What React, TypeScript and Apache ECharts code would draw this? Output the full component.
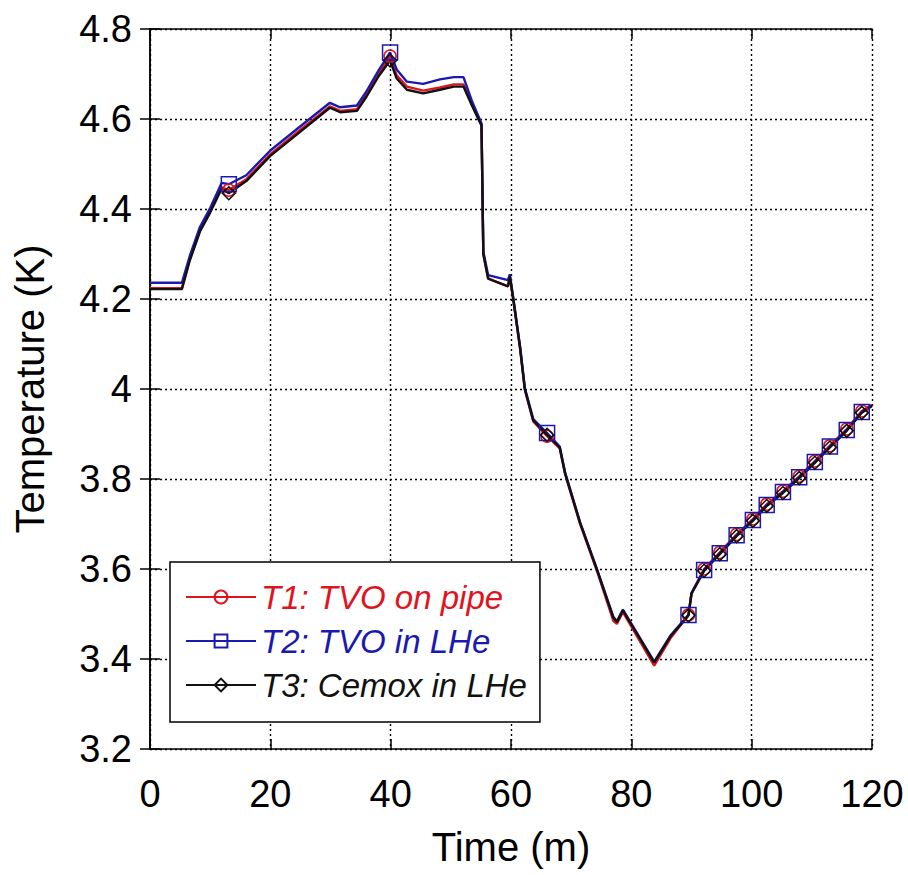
import React, { useEffect, useRef } from "react";
import * as echarts from "echarts";

const time = [0, 5.3, 6.6, 8.3, 10, 11.9, 13.1, 16, 20, 25, 29.9, 31.6, 34.4, 36, 38, 39.9, 41, 42.7, 45.4, 48.2, 50.5, 52.1, 53.5, 55.1, 55.4, 56.2, 59.5, 59.8, 60.4, 61.5, 62.3, 63.7, 66, 68.1, 69, 71.5, 74.3, 77, 77.6, 78.6, 83.8, 86.5, 89.5, 90, 92.1, 94.7, 97.5, 100.2, 102.5, 105.2, 107.9, 110.5, 113, 115.8, 118.3, 120];

const t1 = [4.224, 4.224, 4.288, 4.352, 4.395, 4.448, 4.442, 4.466, 4.522, 4.576, 4.628, 4.618, 4.622, 4.655, 4.7, 4.74, 4.697, 4.672, 4.663, 4.67, 4.677, 4.677, 4.633, 4.587, 4.3, 4.246, 4.228, 4.25, 4.196, 4.09, 3.998, 3.928, 3.895, 3.868, 3.81, 3.699, 3.595, 3.485, 3.478, 3.504, 3.385, 3.446, 3.498, 3.547, 3.6, 3.637, 3.677, 3.711, 3.744, 3.773, 3.806, 3.84, 3.874, 3.911, 3.951, 3.965];

const t2 = [4.236, 4.236, 4.295, 4.36, 4.402, 4.458, 4.455, 4.475, 4.53, 4.584, 4.636, 4.626, 4.63, 4.662, 4.708, 4.748, 4.71, 4.683, 4.678, 4.688, 4.693, 4.693, 4.64, 4.59, 4.305, 4.253, 4.242, 4.255, 4.2, 4.095, 4.002, 3.933, 3.902, 3.872, 3.814, 3.703, 3.599, 3.494, 3.484, 3.51, 3.394, 3.452, 3.498, 3.546, 3.598, 3.635, 3.675, 3.709, 3.742, 3.771, 3.804, 3.838, 3.872, 3.909, 3.949, 3.964];

const t3 = [4.222, 4.222, 4.285, 4.35, 4.392, 4.445, 4.435, 4.462, 4.518, 4.572, 4.625, 4.615, 4.618, 4.65, 4.695, 4.73, 4.69, 4.665, 4.657, 4.665, 4.672, 4.672, 4.63, 4.585, 4.3, 4.245, 4.228, 4.25, 4.198, 4.093, 4.0, 3.93, 3.898, 3.87, 3.812, 3.702, 3.598, 3.492, 3.482, 3.508, 3.392, 3.45, 3.497, 3.545, 3.596, 3.633, 3.673, 3.707, 3.74, 3.769, 3.802, 3.836, 3.87, 3.907, 3.947, 3.962];

const markerTimes = [13.1, 39.9, 66, 89.5, 92.1, 94.7, 97.5, 100.2, 102.5, 105.2, 107.9, 110.5, 113, 115.8, 118.3];

const seriesNames = ["T1: TVO on pipe", "T2: TVO in LHe", "T3: Cemox in LHe"];
const seriesColors = ["#e0141e", "#1a1ab0", "#111111"];
const seriesSymbols = ["circle", "rect", "diamond"];
const seriesSymbolSizes = [12, 15, 13];
const seriesValues = [t1, t2, t3];

const FONT = "'Liberation Sans', Arial, sans-serif";

export default function App() {
  const ref = useRef<HTMLDivElement>(null);

  useEffect(() => {
    if (!ref.current) return;
    const chart = echarts.init(ref.current, undefined, { renderer: "svg" });

    const series = seriesValues.map((vals, s) => ({
      name: seriesNames[s],
      type: "line",
      symbol: seriesSymbols[s],
      symbolSize: seriesSymbolSizes[s],
      showSymbol: true,
      color: seriesColors[s],
      lineStyle: { color: seriesColors[s], width: 2.4 },
      itemStyle: { color: "rgba(255,255,255,0)", borderColor: seriesColors[s], borderWidth: 1.5 },
      emphasis: { disabled: true },
      data: time.map((t, i) =>
        markerTimes.includes(t)
          ? { value: [t, vals[i]] }
          : { value: [t, vals[i]], symbol: "none" }
      ),
    }));

    const axisLine = { show: true, lineStyle: { color: "#000", width: 1.5 } };
    const axisTick = { show: true, inside: true, length: 10, lineStyle: { color: "#000", width: 1.5 } };

    chart.setOption({
      animation: false,
      backgroundColor: "#fff",
      grid: { left: 150, right: 36, top: 29, bottom: 126 },
      legend: {
        orient: "vertical",
        left: 170,
        top: 562,
        padding: [18, 13, 20, 15],
        itemWidth: 70,
        itemHeight: 16,
        itemGap: 10,
        borderColor: "#000",
        borderWidth: 1.5,
        backgroundColor: "#fff",
        borderRadius: 0,
        selectedMode: false,
        textStyle: { fontFamily: FONT, fontSize: 33, fontStyle: "italic", lineHeight: 34 },
        data: seriesNames.map((n, i) => ({ name: n, textStyle: { color: seriesColors[i] } })),
      },
      xAxis: [
        {
          type: "value",
          min: 0,
          max: 120,
          interval: 20,
          name: "Time (m)",
          nameLocation: "middle",
          nameGap: 78,
          nameTextStyle: { fontFamily: FONT, fontSize: 40, color: "#000" },
          axisLine,
          axisTick,
          axisLabel: { fontFamily: FONT, fontSize: 38, color: "#000", margin: 26 },
          splitLine: { show: true, lineStyle: { type: [2, 3], color: "#000", width: 1.4 } },
        },
        {
          type: "value",
          position: "top",
          min: 0,
          max: 120,
          interval: 20,
          axisLine,
          axisTick,
          axisLabel: { show: false },
          splitLine: { show: false },
        },
      ],
      yAxis: [
        {
          type: "value",
          min: 3.2,
          max: 4.8,
          interval: 0.2,
          name: "Temperature (K)",
          nameLocation: "middle",
          nameGap: 100,
          nameTextStyle: { fontFamily: FONT, fontSize: 40, color: "#000" },
          axisLine,
          axisTick,
          axisLabel: {
            fontFamily: FONT,
            fontSize: 38,
            color: "#000",
            margin: 18,
            formatter: (v: number) => String(Math.round(v * 10) / 10),
          },
          splitLine: { show: true, lineStyle: { type: [2, 3], color: "#000", width: 1.4 } },
        },
        {
          type: "value",
          position: "right",
          min: 3.2,
          max: 4.8,
          interval: 0.2,
          axisLine,
          axisTick,
          axisLabel: { show: false },
          splitLine: { show: false },
        },
      ],
      series,
    });

    return () => chart.dispose();
  }, []);

  return (
    <div
      ref={ref}
      style={{ position: "fixed", left: 0, top: 0, width: 908, height: 875, background: "#fff" }}
    />
  );
}
